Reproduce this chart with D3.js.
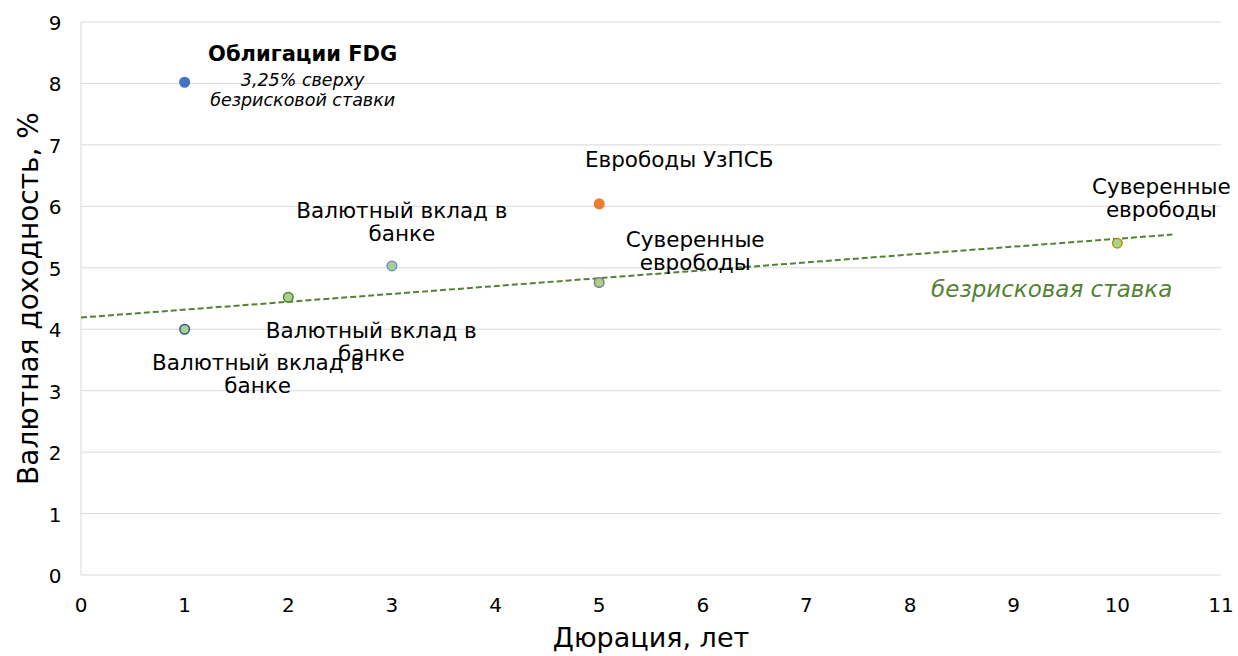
<!DOCTYPE html>
<html>
<head>
<meta charset="utf-8">
<script src="https://cdn.jsdelivr.net/npm/d3@7"></script>
<style>
  body { margin: 0; background: #fff; }
  svg { font-family: "DejaVu Sans", Verdana, sans-serif; }
</style>
</head>
<body>
<svg id="chart" width="1238" height="656"></svg>
<script>
// data
const durations = [1, 1, 2, 3, 5, 5, 10]
const yields = [8.02, 4.0, 4.52, 5.03, 6.04, 4.76, 5.40]
const pointLabels = [
  ['Облигации FDG', '3,25% сверху', 'безрисковой ставки'],
  ['Валютный вклад в', 'банке'],
  ['Валютный вклад в', 'банке'],
  ['Валютный вклад в', 'банке'],
  ['Еврободы УзПСБ'],
  ['Суверенные', 'еврободы'],
  ['Суверенные', 'еврободы']
]
const trendStart = [0, 4.19]
const trendEnd = [10.53, 5.54]
const xTicks = d3.range(0, 12)
const yTicks = d3.range(0, 10)

// marker styles
const fills = ['#4472C4', '#A9D18E', '#A9D18E', '#A9D18E', '#ED7D31', '#A9D18E', '#A9D18E']
const strokes = ['#4472C4', '#2F5597', '#548235', '#6F8FD6', '#ED7D31', '#7F7F7F', '#BF8F00']
// label placement: [dx, dy of first baseline] in px from point
const labelPos = [[118, -21], [73, 41], [83, 41], [10, -48], [80, -37], [96, -36], [44, -49]]

const svg = d3.select('#chart')
const margin = { left: 81, right: 17, top: 22, bottom: 81 }
const W = 1238, H = 656

const x = d3.scaleLinear().domain([0, 11]).range([margin.left, W - margin.right])
const y = d3.scaleLinear().domain([0, 9]).range([H - margin.bottom, margin.top])

// gridlines
svg.append('g')
  .selectAll('line')
  .data(yTicks.filter(d => d > 0))
  .join('line')
  .attr('x1', x(0)).attr('x2', x(11))
  .attr('y1', d => y(d)).attr('y2', d => y(d))
  .attr('stroke', '#D9D9D9').attr('stroke-width', 1)

// axes lines
svg.append('line')
  .attr('x1', x(0)).attr('x2', x(11))
  .attr('y1', y(0)).attr('y2', y(0))
  .attr('stroke', '#D9D9D9')
svg.append('line')
  .attr('x1', x(0)).attr('x2', x(0))
  .attr('y1', y(0)).attr('y2', y(9))
  .attr('stroke', '#D9D9D9')

// tick labels
svg.append('g')
  .selectAll('text')
  .data(xTicks)
  .join('text')
  .attr('x', d => x(d)).attr('y', y(0) + 37)
  .attr('text-anchor', 'middle')
  .attr('font-size', 20).attr('fill', '#000')
  .text(d => d)
svg.append('g')
  .selectAll('text')
  .data(yTicks)
  .join('text')
  .attr('x', x(0) - 26).attr('y', d => y(d) + 8)
  .attr('text-anchor', 'middle')
  .attr('font-size', 20).attr('fill', '#000')
  .text(d => d)

// axis titles
svg.append('text')
  .attr('x', (x(0) + x(11)) / 2).attr('y', 647)
  .attr('text-anchor', 'middle')
  .attr('font-size', 27)
  .text('Дюрация, лет')
svg.append('text')
  .attr('transform', `translate(38, ${(y(0) + y(9)) / 2}) rotate(-90)`)
  .attr('text-anchor', 'middle')
  .attr('font-size', 28)
  .text('Валютная доходность, %')

// trend line
svg.append('line')
  .attr('x1', x(trendStart[0])).attr('y1', y(trendStart[1]))
  .attr('x2', x(trendEnd[0])).attr('y2', y(trendEnd[1]))
  .attr('stroke', '#548235').attr('stroke-width', 2)
  .attr('stroke-dasharray', '6,3')
svg.append('text')
  .attr('x', x(10.53)).attr('y', 297)
  .attr('text-anchor', 'end')
  .attr('font-size', 23).attr('font-style', 'italic')
  .attr('fill', '#548235')
  .text('безрисковая ставка')

// points
svg.append('g')
  .selectAll('circle')
  .data(durations)
  .join('circle')
  .attr('cx', d => x(d))
  .attr('cy', (d, i) => y(yields[i]))
  .attr('r', 4.8)
  .attr('fill', (d, i) => fills[i])
  .attr('stroke', (d, i) => strokes[i])
  .attr('stroke-width', 1.5)

// labels
durations.forEach((d, i) => {
  const px = x(d) + labelPos[i][0]
  const py = y(yields[i]) + labelPos[i][1]
  const t = svg.append('text')
    .attr('text-anchor', 'middle')
    .attr('fill', '#000')
  pointLabels[i].forEach((line, j) => {
    const ts = t.append('tspan').attr('x', px).text(line)
    if (i === 0) {
      ts.attr('y', py + (j === 0 ? 0 : j === 1 ? 25 : 45))
      if (j === 0) ts.attr('font-weight', 'bold').attr('font-size', 21)
      else ts.attr('font-style', 'italic').attr('font-size', 17.5)
    } else {
      ts.attr('y', py + j * 23).attr('font-size', 21.5)
    }
  })
})
</script>
</body>
</html>
